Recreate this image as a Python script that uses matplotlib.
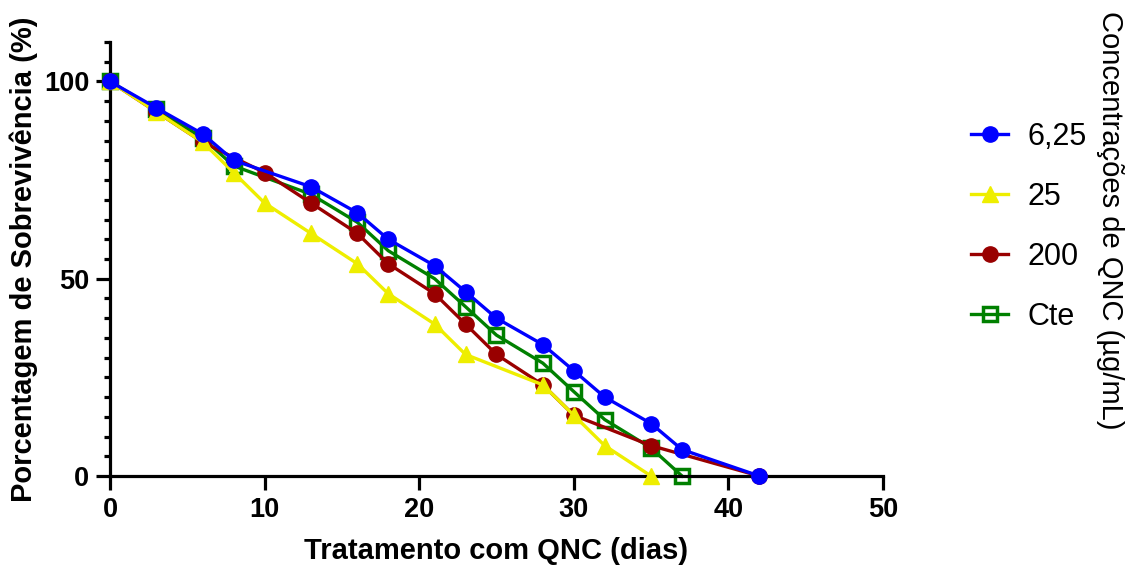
import matplotlib
matplotlib.use("Agg")
import matplotlib.pyplot as plt
from matplotlib.ticker import MultipleLocator

plt.rcParams['font.family'] = ['Liberation Sans', 'DejaVu Sans']

# Data
x_625 = [0, 3, 6, 8, 13, 16, 18, 21, 23, 25, 28, 30, 32, 35, 37, 42]
y_625 = [100, 93.3, 86.7, 80.0, 73.3, 66.7, 60.0, 53.3, 46.7, 40.0, 33.3, 26.7, 20.0, 13.3, 6.7, 0]

x_25 = [0, 3, 6, 8, 10, 13, 16, 18, 21, 23, 28, 30, 32, 35]
y_25 = [100, 92.3, 84.6, 76.9, 69.2, 61.5, 53.8, 46.2, 38.5, 30.8, 23.1, 15.4, 7.7, 0]

x_200 = [0, 3, 6, 10, 13, 16, 18, 21, 23, 25, 28, 30, 35, 42]
y_200 = [100, 92.3, 84.6, 76.9, 69.2, 61.5, 53.8, 46.2, 38.5, 30.8, 23.1, 15.4, 7.7, 0]

x_cte = [0, 3, 6, 8, 13, 16, 18, 21, 23, 25, 28, 30, 32, 35, 37]
y_cte = [100, 92.9, 85.7, 78.6, 71.4, 64.3, 57.1, 50.0, 42.9, 35.7, 28.6, 21.4, 14.3, 7.1, 0]

labels = ["6,25", "25", "200", "Cte"]

fig = plt.figure(figsize=(11.29, 5.66), dpi=100)
ax = fig.add_axes([0.0974, 0.159, 0.6847, 0.7668])

lw = 2.4
ms = 11
l4, = ax.plot(x_cte, y_cte, color='#008000', lw=lw, marker='s', ms=ms - 1.5,
              markerfacecolor='none', markeredgewidth=2.5, zorder=2, clip_on=False)
l3, = ax.plot(x_200, y_200, color='#990000', lw=lw, marker='o', ms=ms,
              zorder=3, clip_on=False)
l2, = ax.plot(x_25, y_25, color='#EEEE00', lw=lw, marker='^', ms=ms,
              zorder=4, clip_on=False)
l1, = ax.plot(x_625, y_625, color='#0000FF', lw=lw, marker='o', ms=ms,
              zorder=5, clip_on=False)

ax.set_xlim(0, 50)
ax.set_ylim(0, 110)
ax.set_xticks([0, 10, 20, 30, 40, 50])
ax.set_yticks([0, 50, 100])
ax.yaxis.set_minor_locator(MultipleLocator(5))
for s in ['top', 'right']:
    ax.spines[s].set_visible(False)
for s in ['left', 'bottom']:
    ax.spines[s].set_linewidth(2.3)
ax.tick_params(axis='both', which='major', length=10, width=2.3, labelsize=19.5, pad=5)
ax.tick_params(axis='y', which='minor', length=4.5, width=2.3)
for t in ax.get_xticklabels() + ax.get_yticklabels():
    t.set_fontweight('bold')

ax.set_xlabel("Tratamento com QNC (dias)", fontsize=21, fontweight='bold', labelpad=10)
ax.set_ylabel("Porcentagem de Sobrevivência (%)", fontsize=21, fontweight='bold', labelpad=4)

leg = fig.legend([l1, l2, l3, l4], labels, loc='upper left',
                 bbox_to_anchor=(0.836, 0.833), frameon=False, fontsize=22,
                 handlelength=1.2, labelspacing=0.98, handletextpad=0.65)

fig.text(0.983, 0.611, "Concentrações de QNC (µg/mL)", rotation=270,
         ha='center', va='center', fontsize=21)

fig.savefig("out.png", dpi=100)
